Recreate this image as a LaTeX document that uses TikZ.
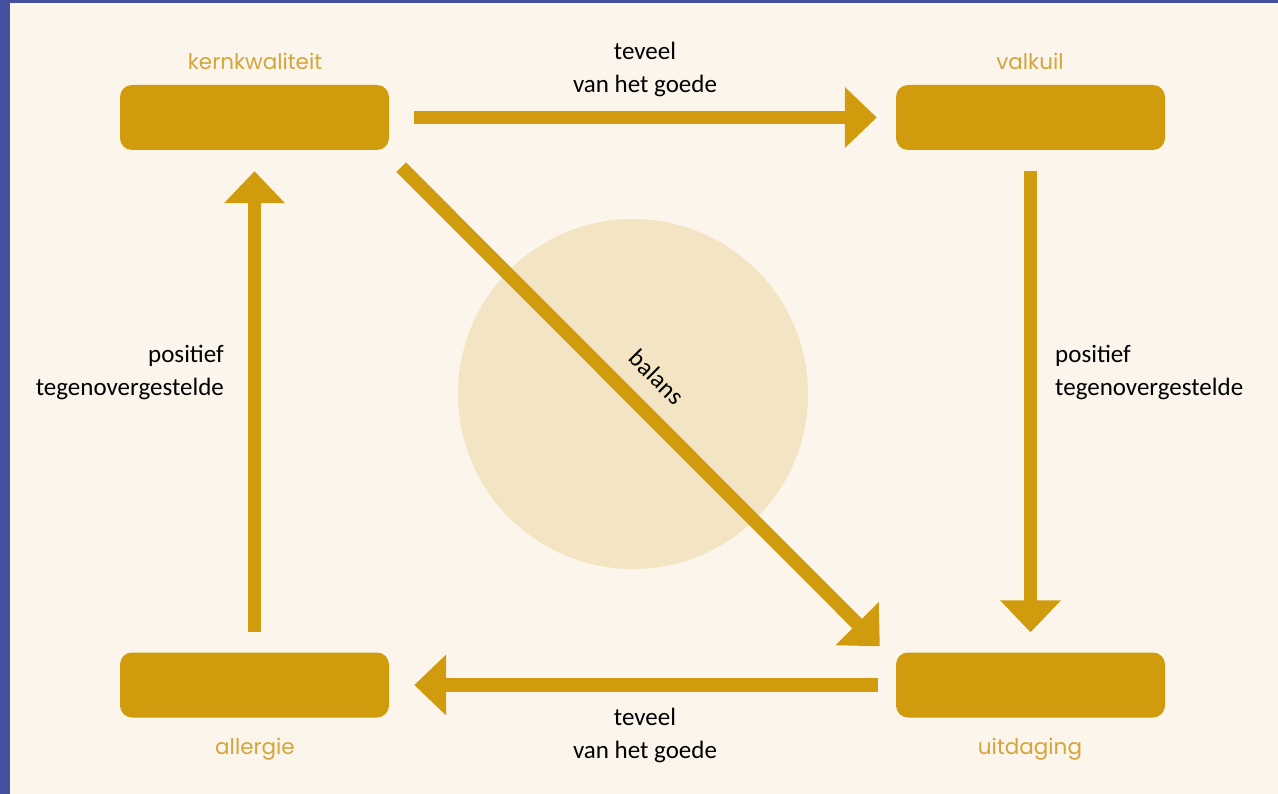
\documentclass[tikz,border=0pt]{standalone}
\usepackage{fontspec}
\setmainfont{Carlito}
\newfontfamily\labelfont{Poppins}
\usetikzlibrary{arrows.meta,calc}
\definecolor{bgc}{HTML}{FCF5EC}
\definecolor{edgeblue}{HTML}{4451A0}
\definecolor{gold}{HTML}{D09B0C}
\definecolor{labgold}{HTML}{D3A53C}
\definecolor{circ}{HTML}{F3E4C3}
\begin{document}
\begin{tikzpicture}[x=1pt,y=-1pt,
  box/.style={draw=none,fill=gold,rounded corners=12pt,minimum width=269pt,minimum height=65pt,inner sep=0pt},
  lab/.style={text=labgold,font=\labelfont\fontsize{21.5}{24}\selectfont,inner sep=0pt},
  txt/.style={text=black,font=\fontsize{25}{33}\selectfont,inner sep=0pt},
  bigarrow/.style={draw=gold,line width=13.5pt,-{Triangle[width=59pt,length=32pt]},fill=gold}]
\useasboundingbox (0,0) rectangle (1278,794);
\fill[bgc] (0,0) rectangle (1278,794);
\fill[edgeblue] (0,0) rectangle (10,794);
\fill[edgeblue] (0,0) rectangle (1278,3);
% circle
\node[circle,fill=circ,minimum size=350pt,inner sep=0pt] (bal) at (633,394) {};
% boxes
\node[box] (kk) at (254.5,117.5) {};
\node[box] (vk) at (1030.5,117.5) {};
\node[box] (al) at (254.5,685) {};
\node[box] (ui) at (1030.5,685) {};
% labels
\node[lab] (lkk) at (255,61) {kernkwaliteit};
\node[lab] (lvk) at (1030,61) {valkuil};
\node[lab] (lal) at (255,749) {allergie};
\node[lab] (lui) at (1030,749) {uitdaging};
% arrows
\draw[bigarrow] ([xshift=25pt]kk.east) -- ([xshift=-19pt]vk.west);
\draw[bigarrow] ([yshift=-21pt]vk.south) -- ([yshift=20pt]ui.north);
\draw[bigarrow] ([xshift=-18pt]ui.west) -- ([xshift=25pt]al.east);
\draw[bigarrow] ([yshift=20pt]al.north) -- ([yshift=-21pt]kk.south);
\coordinate (ds) at ($(kk.south east)+(12,17)$);
\coordinate (de) at ($(ui.north west)+(-16,-6)$);
\draw[bigarrow] (ds) -- (de);
% texts
\node[txt,align=center] (t1) at (645,69) {teveel\\van het goede};
\node[txt,align=center] (t2) at (645,735) {teveel\\van het goede};
\node[txt,align=right,anchor=east] (t3) at (224,373) {positief\\tegenovergestelde};
\node[txt,align=left,anchor=west] (t4) at (1055,373) {positief\\tegenovergestelde};
\node[txt,rotate=-45] (t5) at (657,377) {balans};
\end{tikzpicture}
\end{document}
